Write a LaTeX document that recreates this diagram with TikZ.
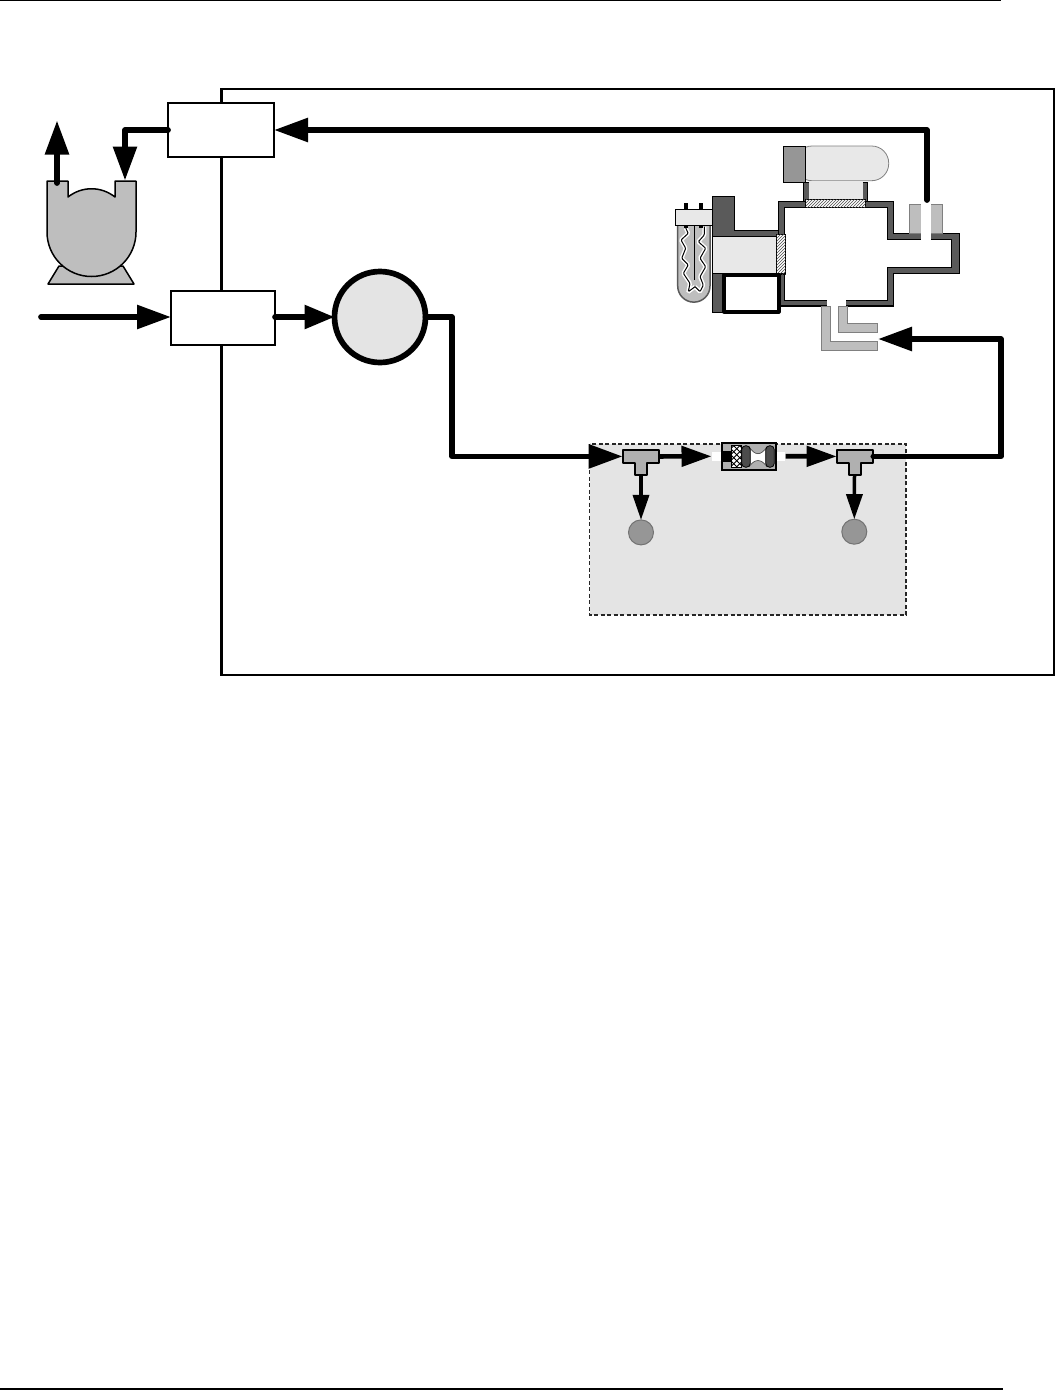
\documentclass[tikz,border=0pt]{standalone}
\usetikzlibrary{arrows.meta,patterns}
\definecolor{darkwall}{HTML}{5A5A5A}
\definecolor{lightfill}{HTML}{E8E8E8}
\definecolor{midfill}{HTML}{BEBEBE}
\definecolor{tfill}{HTML}{B0B0B0}
\definecolor{ballfill}{HTML}{969696}
\definecolor{zonefill}{HTML}{E4E4E4}
\tikzset{
  whitebox/.style={draw=black,fill=white,line width=1.6pt,minimum width=#1,minimum height=54pt,inner sep=0pt,outer sep=0pt},
  flow/.style={draw=black,line width=5.7pt,line cap=round,line join=round,-{Triangle[length=34pt,width=23pt]}},
  flowmid/.style={draw=black,line width=4.7pt,-{Triangle[length=30pt,width=20pt]}},
  flowdown/.style={draw=black,line width=3.5pt,-{Triangle[length=25pt,width=16pt]}},
  ball/.style={circle,draw=gray!90!black,line width=1pt,fill=ballfill,minimum size=25pt,inner sep=0pt,outer sep=0pt},
  anchorbox/.style={inner sep=0pt,outer sep=0pt,minimum width=36.6pt,minimum height=12.7pt},
  wall/.style={draw=black,line width=1.2pt,fill=darkwall},
  tfit/.style={draw=black,line width=2.2pt,fill=tfill,line join=round},
  elbow/.style={draw=gray,line width=.7pt,fill=midfill},
  wig/.style={rounded corners=1pt},
}
\begin{document}
\begin{tikzpicture}[x=1pt,y=-1pt]
\useasboundingbox (0,0) rectangle (1055,1390);
\fill[white] (0,0) rectangle (1055,1390);
% page rules
\draw[line width=1.5pt] (0,0.6) -- (1001,0.6);
\draw[line width=1.5pt] (0,1389) -- (1003,1389);
% instrument frame
\draw[line width=2.2pt] (221.5,89) rectangle (1054.5,675);
% pneumatic zone
\draw[fill=zonefill,draw=black!85,line width=1.5pt,dash pattern=on 4pt off 2.5pt] (589.5,444) rectangle (906,615);

% pump
\draw[fill=midfill,draw=black,line width=1.5pt,line join=round] (59,266) -- (48,284) -- (134,284) -- (123,266) -- cycle;
\draw[fill=midfill,draw=black,line width=1.5pt,line join=round]
  (47,181) -- (68,181) -- (68,197) .. controls (82,186) and (101,186) .. (115,197) -- (115,181) -- (136,181) -- (136,232)
  arc[start angle=0,end angle=180,radius=44.5] -- cycle;

% boxes
\node[whitebox=106pt] (vent) at (221,130) {};
\node[whitebox=104pt] (inlet) at (223,318) {};
\node[circle,draw=black,line width=5.7pt,fill=zonefill,minimum size=91pt,inner sep=0pt,outer sep=0pt] (cell) at (380,317) {};

% detector: lamp on top
\fill[darkwall,draw=black,line width=.6pt] (803.3,182) rectangle (867.3,203);
\draw[fill=lightfill,draw=gray,line width=.8pt,rounded corners=17pt] (795,146) -- (888.7,146) -- (888.7,180.7) -- (795,180.7) -- cycle;
\draw[fill=ballfill,draw=black,line width=.8pt] (783.3,146) rectangle (805.7,182.3);
\fill[lightfill] (809.3,181) rectangle (862.7,199.3);
% detector: chamber
\draw[wall] (778.3,201.7) -- (893.3,201.7) -- (893.3,233.3) -- (959.3,233.3) -- (959.3,273.3) -- (893.3,273.3) -- (893.3,306) -- (778.3,306) -- cycle;
\draw[fill=white,draw=black,line width=1pt] (784.3,207.3) -- (887.7,207.3) -- (887.7,239.3) -- (951.7,239.3) -- (951.7,267.7) -- (887.7,267.7) -- (887.7,300.7) -- (784.3,300.7) -- cycle;
\draw[fill=white,draw=black,line width=1.2pt,postaction={pattern=north east lines,pattern color=black!70}] (805.7,199.3) rectangle (865.7,207.3);
\fill[white] (827,300) rectangle (846,306.6);
% detector: outlet stub
\fill[midfill,draw=gray,line width=.6pt] (909,204.7) rectangle (942,233);
\fill[white] (921,204) rectangle (931,239.6);
% detector: inlet elbow
\draw[elbow] (821.7,306.7) -- (830.7,306.7) -- (830.7,341.7) -- (877.3,341.7) -- (877.3,350) -- (821.7,350) -- cycle;
\draw[elbow] (838.3,306.7) -- (847.3,306.7) -- (847.3,323.3) -- (877.3,323.3) -- (877.3,332.7) -- (838.3,332.7) -- cycle;
% detector: left housing
\fill[darkwall,draw=black,line width=.8pt] (712.3,196.7) -- (734.3,196.7) -- (734.3,230.7) -- (778.3,230.7) -- (778.3,237) -- (712.3,237) -- cycle;
\fill[darkwall,draw=black,line width=.8pt] (712.3,273) rectangle (725,312);
\draw[fill=lightfill,draw=black,line width=.8pt] (712.3,236.7) rectangle (776.7,273.3);
\draw[fill=white,draw=black,line width=1.2pt,postaction={pattern=north east lines,pattern color=black!70}] (776.7,234.5) rectangle (785.7,274);
\draw[fill=white,draw=black,line width=4pt,line join=round] (724,274.5) rectangle (778.5,311.5);
% detector: UV lamp
\draw[fill=midfill,draw=darkwall,line width=1.5pt] (677.7,225) -- (677.7,286) arc[start angle=180,end angle=0,radius=16.15] -- (710,225) -- cycle;
\foreach \lw/\col in {4pt/white,1pt/black}{
  \draw[line width=\lw,draw=\col,wig] (685.7,228) -- (688.3,233.3) -- (681,240) -- (685.7,248.3) -- (681.7,258.3) -- (688.3,265) -- (683.3,273.3) -- (690,283.3) -- (688.3,291.7) -- (695,286.7);
  \draw[line width=\lw,draw=\col,wig] (704.3,226.7) -- (704.3,235) -- (698.3,241.7) -- (705.7,248.3) -- (700,258.3) -- (705.7,266.7) -- (700,276.7) -- (703.3,285) -- (700,291.7) -- (695,286.7);
}
\draw[line width=.8pt] (694.3,225) -- (694.3,280);
\fill[black] (684.3,203) rectangle (687.7,210);
\fill[black] (699.3,203) rectangle (702.7,210);
\fill[black] (684.3,225) rectangle (687.7,228);
\fill[black] (699.3,225) rectangle (702.7,228);
\draw[fill=lightfill,draw=black,line width=.8pt] (675,209.3) rectangle (712.3,225);

% T fittings
\draw[tfit] (622.7,450) -- (659.3,450) -- (659.3,462.7) -- (647.3,462.7) -- (647.3,475) -- (635,475) -- (635,462.7) -- (622.7,462.7) -- cycle;
\draw[tfit] (836.7,450) -- (873.3,450) -- (873.3,462.7) -- (861,462.7) -- (861,475) -- (848.7,475) -- (848.7,462.7) -- (836.7,462.7) -- cycle;
\node[anchorbox] (teeA) at (641,456.4) {};
\node[anchorbox] (teeB) at (855,456.4) {};
\coordinate (teeAstem) at (641,475);
\coordinate (teeBstem) at (854.5,475);
\node[ball] (ballA) at (641,532.4) {};
\node[ball] (ballB) at (854.3,531.7) {};

% flow element
\fill[white] (711.7,451.7) rectangle (721.7,460.7);
\fill[white] (775.7,451.7) rectangle (785,460.7);
\node[draw=black,line width=1.8pt,fill=tfill,minimum width=54pt,minimum height=27.3pt,inner sep=0pt,outer sep=0pt] (orifice) at (748.7,456.3) {};
\fill[black] (721.7,450.7) rectangle (731.7,462.3);
\fill[white] (731.7,445.7) rectangle (741.7,467.3);
\begin{scope}
  \clip (731.7,445.7) rectangle (741.7,467.3);
  \foreach \d in {-20,-14,...,34}{
    \draw[line width=.9pt] (731.7,445.7+\d) -- (741.7,455.7+\d);
    \draw[line width=.9pt] (731.7,455.7+\d) -- (741.7,445.7+\d);
  }
\end{scope}
\draw[line width=1pt] (731.7,445.7) rectangle (741.7,467.3);
\fill[white] (749,446.7) .. controls (755,456) and (761,456) .. (767,446.7) -- (767,466.7) .. controls (761,458.5) and (755,458.5) .. (749,466.7) -- cycle;
\draw[line width=.7pt,draw=black!70] (749,446.7) .. controls (755,456) and (761,456) .. (767,446.7);
\draw[line width=.7pt,draw=black!70] (749,466.7) .. controls (755,458.5) and (761,458.5) .. (767,466.7);
\draw[fill=black!70,draw=black,line width=.8pt,rounded corners=4pt] (741.7,445.7) rectangle (750.3,467.3);
\draw[fill=black!70,draw=black,line width=.8pt,rounded corners=4pt] (765.7,445.7) rectangle (774.3,467.3);
\coordinate (orificeIn) at (711.5,456.3);
\coordinate (orificeOut) at (785.5,456.3);

% connectors
\coordinate (pumpOut) at (57,183);
\coordinate (ventUp) at (57,120.5);
\coordinate (pumpBend) at (125,130);
\coordinate (pumpIn) at (125,180.5);
\coordinate (gasIn) at (41,317);
\coordinate (cellBend1) at (452,317);
\coordinate (cellBend2) at (452,456.4);
\coordinate (stubTop) at (927,200);
\coordinate (stubBend) at (927,130);
\coordinate (exitBend1) at (1001,456.4);
\coordinate (exitBend2) at (1001,339);
\coordinate (elbowIn) at (878,339);
\draw[flow] (pumpOut) -- (ventUp);
\draw[flow] (vent.west) -- (pumpBend) -- (pumpIn);
\draw[flow] (gasIn) -- (gasIn -| inlet.west);
\draw[flow,-{Triangle[length=30pt,width=23pt]}] (inlet.east |- cell.west) -- (cell.west);
\draw[flow] (cell.east) -- (cellBend1) -- (cellBend2) -- (teeA.west);
\draw[flow] (stubTop) -- (stubBend) -- (vent.east);
\draw[flowmid] (teeA.east) -- (orificeIn);
\draw[flowmid] (orificeOut) -- (teeB.west);
\draw[flowdown] (teeAstem) -- (ballA.north);
\draw[flowdown] (teeBstem) -- (ballB.north);
\draw[flow] (teeB.east) -- (exitBend1) -- (exitBend2) -- (elbowIn);
\end{tikzpicture}
\end{document}
